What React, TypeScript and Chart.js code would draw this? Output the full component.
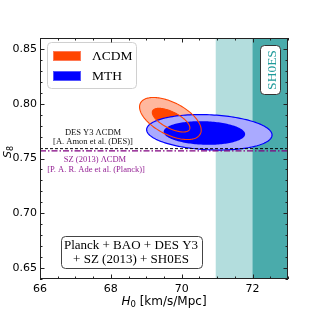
import React, { useEffect, useRef } from "react";
import { Chart, registerables } from "chart.js";
Chart.register(...registerables);

// ---- data ----
const H0_RANGE = [66, 73];
const S8_RANGE = [0.64, 0.86];
const xTickLabels = [66, 68, 70, 72];
const yTickLabels = [0.65, 0.7, 0.75, 0.8, 0.85];

// SH0ES H0 bands [from, to]
const sh0es2Sigma = [70.96, 75.12];
const sh0es1Sigma = [72.0, 74.08];

// horizontal S8 reference values
const desS8 = 0.759;
const szS8 = 0.757;

// contours: [centre H0, centre S8, half-width H0, half-height S8, correlation]
const lcdmOuter = [69.68, 0.7865, 0.87, 0.0192, -0.55];
const lcdmInner = [69.7, 0.785, 0.53, 0.0108, -0.65];
const mthOuter = [70.78, 0.7739, 1.77, 0.0162, -0.15];
const mthInner = [70.64, 0.7733, 1.15, 0.0108, -0.1];

const legendLabels = ["ΛCDM", "MTH"];
const desText = ["DES Y3 ΛCDM", "[A. Amon et al. (DES)]"];
const szText = ["SZ (2013) ΛCDM", "[P. A. R. Ade et al. (Planck)]"];
const boxText = ["Planck + BAO + DES Y3", "+ SZ (2013) + SH0ES"];
const sh0esLabel = "SH0ES";

const SERIF = "'Liberation Serif', 'DejaVu Serif', serif";
const SANS = "'DejaVu Sans', sans-serif";
const ORANGE = "#ff4500";
const ORANGE_LIGHT = "#ffb79e";
const BLUE = "#0000ff";
const BLUE_LIGHT = "#aaaaff";
const PURPLE = "#952295";

function ellipsePath(ctx: CanvasRenderingContext2D, xs: any, ys: any, c: number[]) {
  const [cx, cy, hw, hh, rho] = c;
  const s = Math.sqrt(1 - rho * rho);
  ctx.beginPath();
  const N = 160;
  for (let i = 0; i <= N; i++) {
    const t = (i / N) * Math.PI * 2;
    const px = xs.getPixelForValue(cx + hw * Math.cos(t));
    const py = ys.getPixelForValue(cy + hh * (rho * Math.cos(t) + s * Math.sin(t)));
    if (i === 0) ctx.moveTo(px, py);
    else ctx.lineTo(px, py);
  }
  ctx.closePath();
}

function roundRect(ctx: CanvasRenderingContext2D, x: number, y: number, w: number, h: number, r: number) {
  ctx.beginPath();
  ctx.moveTo(x + r, y);
  ctx.lineTo(x + w - r, y);
  ctx.arcTo(x + w, y, x + w, y + r, r);
  ctx.lineTo(x + w, y + h - r);
  ctx.arcTo(x + w, y + h, x + w - r, y + h, r);
  ctx.lineTo(x + r, y + h);
  ctx.arcTo(x, y + h, x, y + h - r, r);
  ctx.lineTo(x, y + r);
  ctx.arcTo(x, y, x + r, y, r);
  ctx.closePath();
}

const backgroundPlugin = {
  id: "bg",
  beforeDatasetsDraw(chart: any) {
    const ctx: CanvasRenderingContext2D = chart.ctx;
    const xs = chart.scales.x;
    const ys = chart.scales.y;
    const { left, right, top, bottom } = chart.chartArea;
    ctx.save();
    ctx.beginPath();
    ctx.rect(left, top, right - left, bottom - top);
    ctx.clip();
    // SH0ES bands
    const b2a = xs.getPixelForValue(sh0es2Sigma[0]);
    const b2b = xs.getPixelForValue(sh0es2Sigma[1]);
    ctx.fillStyle = "#b3dddd";
    ctx.fillRect(b2a, top, b2b - b2a, bottom - top);
    const b1a = xs.getPixelForValue(sh0es1Sigma[0]);
    const b1b = xs.getPixelForValue(sh0es1Sigma[1]);
    ctx.fillStyle = "#4aabab";
    ctx.fillRect(b1a, top, b1b - b1a, bottom - top);

    // LCDM fills
    ellipsePath(ctx, xs, ys, lcdmOuter);
    ctx.fillStyle = ORANGE_LIGHT;
    ctx.fill();
    ellipsePath(ctx, xs, ys, lcdmInner);
    ctx.fillStyle = ORANGE;
    ctx.fill();
    // MTH fills
    ellipsePath(ctx, xs, ys, mthOuter);
    ctx.fillStyle = BLUE_LIGHT;
    ctx.fill();
    ctx.strokeStyle = BLUE;
    ctx.lineWidth = 1.2;
    ctx.stroke();
    ellipsePath(ctx, xs, ys, mthInner);
    ctx.fillStyle = BLUE;
    ctx.fill();
    // LCDM outlines on top
    ctx.strokeStyle = ORANGE;
    ctx.lineWidth = 1.1;
    ellipsePath(ctx, xs, ys, lcdmOuter);
    ctx.stroke();
    ellipsePath(ctx, xs, ys, lcdmInner);
    ctx.stroke();
    ctx.restore();
  },
  afterDatasetsDraw(chart: any) {
    const ctx: CanvasRenderingContext2D = chart.ctx;
    const xs = chart.scales.x;
    const ys = chart.scales.y;
    const { left, right, top, bottom } = chart.chartArea;
    ctx.save();

    // reference-line texts
    ctx.textAlign = "center";
    ctx.textBaseline = "middle";
    ctx.font = `8.5px ${SERIF}`;
    ctx.fillStyle = "#111";
    ctx.fillText(desText[0], 93, 133);
    ctx.fillText(desText[1], 93, 142);
    ctx.fillStyle = PURPLE;
    ctx.fillText(szText[0], 95, 160);
    ctx.fillText(szText[1], 96, 170);

    // legend
    roundRect(ctx, 47.5, 42.5, 89, 46, 4);
    ctx.fillStyle = "rgba(255,255,255,0.9)";
    ctx.fill();
    ctx.strokeStyle = "#d0d0d0";
    ctx.lineWidth = 1;
    ctx.stroke();
    const sw = [ORANGE, BLUE];
    const swEdge = ["#ff7a55", "#5555ff"];
    const sy = [51, 71];
    for (let i = 0; i < 2; i++) {
      ctx.fillStyle = sw[i];
      ctx.fillRect(53, sy[i], 28, 10);
      ctx.strokeStyle = swEdge[i];
      ctx.strokeRect(53.5, sy[i] + 0.5, 27, 9);
      ctx.fillStyle = "#000";
      ctx.textAlign = "left";
      ctx.font = `13.5px ${SERIF}`;
      ctx.fillText(legendLabels[i], 92, sy[i] + 5.5);
    }

    // SH0ES label box
    roundRect(ctx, 260.5, 45.5, 20, 49, 4);
    ctx.fillStyle = "#fff";
    ctx.fill();
    ctx.strokeStyle = "#333";
    ctx.lineWidth = 1;
    ctx.stroke();
    ctx.save();
    ctx.translate(271, 70);
    ctx.rotate(-Math.PI / 2);
    ctx.textAlign = "center";
    ctx.fillStyle = "#1f9a9a";
    ctx.font = `13.5px ${SERIF}`;
    ctx.fillText(sh0esLabel, 0, 1);
    ctx.restore();

    // bottom box
    roundRect(ctx, 61.5, 236.5, 141, 32, 4);
    ctx.fillStyle = "#fff";
    ctx.fill();
    ctx.strokeStyle = "#444";
    ctx.stroke();
    ctx.fillStyle = "#000";
    ctx.textAlign = "center";
    ctx.font = `13px ${SERIF}`;
    ctx.fillText(boxText[0], 131, 245.5);
    ctx.fillText(boxText[1], 131, 259.5);

    // inward ticks on all four sides
    ctx.strokeStyle = "#222";
    ctx.lineWidth = 1;
    xs.ticks.forEach((t: any) => {
      const px = Math.round(xs.getPixelForValue(t.value)) + 0.5;
      const len = xTickLabels.some((v) => Math.abs(v - t.value) < 1e-6) ? 4.5 : 2.5;
      ctx.beginPath();
      ctx.moveTo(px, bottom);
      ctx.lineTo(px, bottom - len);
      ctx.moveTo(px, top);
      ctx.lineTo(px, top + len);
      ctx.stroke();
    });
    ys.ticks.forEach((t: any) => {
      const py = Math.round(ys.getPixelForValue(t.value)) + 0.5;
      const len = yTickLabels.some((v) => Math.abs(v - t.value) < 1e-6) ? 4.5 : 2.5;
      ctx.beginPath();
      ctx.moveTo(left, py);
      ctx.lineTo(left + len, py);
      ctx.moveTo(right, py);
      ctx.lineTo(right - len, py);
      ctx.stroke();
    });
    ctx.strokeStyle = "#222";
    ctx.strokeRect(left + 0.5, top + 0.5, right - left - 1, bottom - top - 1);

    // x axis title: H0 [km/s/Mpc]
    ctx.fillStyle = "#000";
    ctx.textBaseline = "alphabetic";
    ctx.textAlign = "left";
    const f1 = `italic 12px ${SANS}`;
    const f2 = `8.5px ${SANS}`;
    const f3 = `12px ${SANS}`;
    const rest = " [km/s/Mpc]";
    ctx.font = f1;
    const wH = ctx.measureText("H").width;
    ctx.font = f2;
    const w0 = ctx.measureText("0").width;
    ctx.font = f3;
    const wR = ctx.measureText(rest).width;
    const total = wH + w0 + wR;
    const x0 = (left + right) / 2 - total / 2;
    const base = 305;
    ctx.font = f1;
    ctx.fillText("H", x0, base);
    ctx.font = f2;
    ctx.fillText("0", x0 + wH, base + 2);
    ctx.font = f3;
    ctx.fillText(rest, x0 + wH + w0, base);

    // y axis title: S8 (rotated)
    ctx.save();
    ctx.translate(10.5, 152);
    ctx.rotate(-Math.PI / 2);
    ctx.font = `italic 11px ${SANS}`;
    const wS = ctx.measureText("S").width;
    ctx.font = `8px ${SANS}`;
    const w8 = ctx.measureText("8").width;
    const sx = -(wS + w8) / 2;
    ctx.font = `italic 11px ${SANS}`;
    ctx.fillText("S", sx, 0);
    ctx.font = `8px ${SANS}`;
    ctx.fillText("8", sx + wS, 2);
    ctx.restore();

    ctx.restore();
  },
};

export default function App() {
  const ref = useRef<HTMLCanvasElement>(null);
  useEffect(() => {
    const canvas = ref.current!;
    const chart = new Chart(canvas, {
      type: "scatter",
      data: {
        datasets: [
          {
            label: desText[0],
            data: [
              { x: H0_RANGE[0], y: desS8 },
              { x: H0_RANGE[1], y: desS8 },
            ],
            showLine: true,
            borderColor: "#000",
            borderWidth: 1,
            borderDash: [3, 2],
            pointRadius: 0,
          },
          {
            label: szText[0],
            data: [
              { x: H0_RANGE[0], y: szS8 },
              { x: H0_RANGE[1], y: szS8 },
            ],
            showLine: true,
            borderColor: "#800080",
            borderWidth: 1.2,
            borderDash: [6, 2, 1.5, 2],
            pointRadius: 0,
          },
        ],
      },
      options: {
        responsive: false,
        animation: false,
        devicePixelRatio: 1,
        layout: { padding: { left: 0, top: 38, right: 32, bottom: 0 } },
        plugins: { legend: { display: false }, tooltip: { enabled: false } },
        scales: {
          x: {
            type: "linear",
            min: H0_RANGE[0],
            max: H0_RANGE[1],
            grid: { display: false, drawTicks: false },
            border: { display: false },
            afterFit: (s: any) => {
              s.height = 41;
            },
            ticks: {
              stepSize: 0.5,
              autoSkip: false,
              maxRotation: 0,
              maxTicksLimit: 100,
              padding: 4,
              color: "#000",
              font: { family: SANS, size: 11 },
              callback: (v: any) =>
                xTickLabels.some((l) => Math.abs(l - v) < 1e-6) ? String(Math.round(v)) : "",
            },
          },
          y: {
            type: "linear",
            min: S8_RANGE[0],
            max: S8_RANGE[1],
            grid: { display: false, drawTicks: false },
            border: { display: false },
            afterFit: (s: any) => {
              s.width = 40;
            },
            ticks: {
              stepSize: 0.01,
              autoSkip: false,
              maxTicksLimit: 100,
              padding: 3,
              color: "#000",
              font: { family: SANS, size: 11 },
              callback: (v: any) =>
                yTickLabels.some((l) => Math.abs(l - v) < 1e-6) ? Number(v).toFixed(2) : "",
            },
          },
        },
      },
      plugins: [backgroundPlugin],
    } as any);
    return () => chart.destroy();
  }, []);
  return (
    <div style={{ position: "absolute", left: 0, top: 0, width: 320, height: 320 }}>
      <canvas ref={ref} width={320} height={320} style={{ display: "block", width: 320, height: 320 }} />
    </div>
  );
}
